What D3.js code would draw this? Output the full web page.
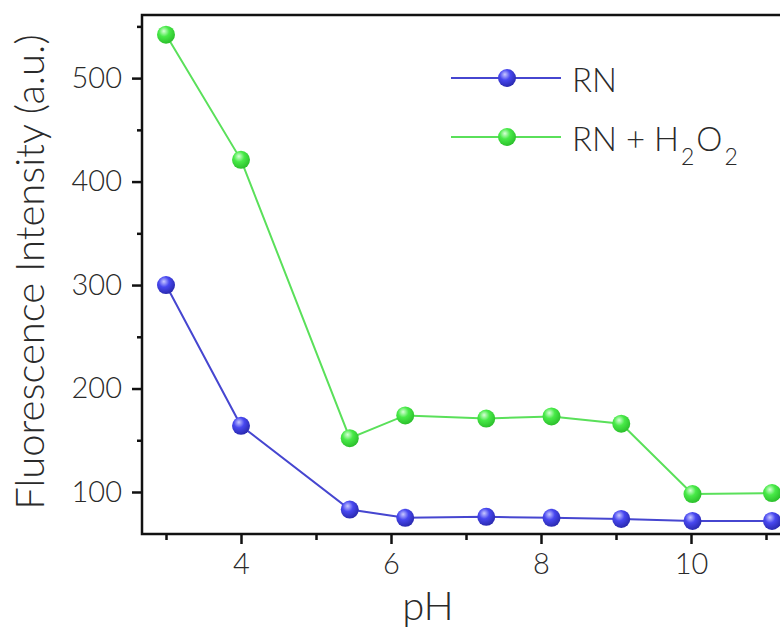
<!DOCTYPE html>
<html><head><meta charset="utf-8">
<script src="https://cdn.jsdelivr.net/npm/d3@7"></script>
<style>body{margin:0;background:#fff;} svg{display:block;} text{font-weight:300;}</style>
</head><body>
<svg id="c" width="780" height="628"></svg>
<script>
const pH = [3, 4, 5.45, 6.19, 7.27, 8.14, 9.07, 10.02, 11.08];
const rn = [300, 164, 83, 75, 76, 75, 74, 72, 72];
const rnH2O2 = [542, 421, 152, 174, 171, 173, 166, 98, 99];
const xTicks = [4, 6, 8, 10];
const xMinor = [3, 5, 7, 9, 11];
const yTicks = [100, 200, 300, 400, 500];
const yMinor = [150, 250, 350, 450, 550];
const seriesNames = ["RN", "RN + H2O2"];

const svg = d3.select("#c");
const L = 142, T = 15, B = 534;
const x = d3.scaleLinear().domain([2.68, 11.58]).range([L, L + (11.58-2.68)*75]);
const y = d3.scaleLinear().domain([59.4, 561]).range([B, T]);
const font = "Lato, 'Open Sans', sans-serif";
const textCol = "#2a2a2a";

const defs = svg.append("defs");
function grad(id, light, mid, dark){
  const g = defs.append("radialGradient").attr("id", id).attr("cx","40%").attr("cy","35%").attr("r","65%").attr("fx","38%").attr("fy","30%");
  g.append("stop").attr("offset","0%").attr("stop-color", light);
  g.append("stop").attr("offset","45%").attr("stop-color", mid);
  g.append("stop").attr("offset","100%").attr("stop-color", dark);
}
grad("gb", "#c8c8ff", "#4848f0", "#2a2ab0");
grad("gg", "#d8ffd8", "#48ea48", "#2cc02c");

const series = [
  {name: seriesNames[0], vals: rn, line: "#4646d0", fill: "url(#gb)"},
  {name: seriesNames[1], vals: rnH2O2, line: "#5ae05a", fill: "url(#gg)"}
];

const line = d3.line().x(d => x(d[0])).y(d => y(d[1]));
series.forEach(s => {
  const pts = pH.map((p, i) => [p, s.vals[i]]);
  svg.append("path").datum(pts).attr("d", line).attr("fill","none").attr("stroke", s.line).attr("stroke-width", 2);
  svg.selectAll(null).data(pts).enter().append("circle")
    .attr("cx", d => x(d[0])).attr("cy", d => y(d[1])).attr("r", 9).attr("fill", s.fill);
});

// axes
const xAxis = d3.axisBottom(x).tickValues(xTicks).tickSize(10).tickPadding(9).tickFormat(d3.format("d"));
const gx = svg.append("g").attr("transform", `translate(0,${B})`).call(xAxis);
gx.select(".domain").remove();
gx.append("g").call(d3.axisBottom(x).tickValues(xMinor).tickSize(6).tickFormat("")).select(".domain").remove();
const yAxis = d3.axisLeft(y).tickValues(yTicks).tickSize(10).tickPadding(10);
const gy = svg.append("g").attr("transform", `translate(${L},0)`).call(yAxis);
gy.select(".domain").remove();
gy.append("g").call(d3.axisLeft(y).tickValues(yMinor).tickSize(5).tickFormat("")).select(".domain").remove();
[gx, gy].forEach(g => {
  g.selectAll("line").attr("stroke", "#111").attr("stroke-width", 2.5);
  g.selectAll("text").attr("font-family", font).attr("font-size", 29).attr("fill", textCol);
});

// frame
svg.append("path").attr("d", `M${L},${T} L780,${T} M${L},${T-1.25} L${L},${B} L780,${B}`)
  .attr("fill","none").attr("stroke","#111").attr("stroke-width",2.5);

// axis titles
svg.append("text").attr("x", 428).attr("y", 620).attr("text-anchor","middle")
  .attr("font-family", font).attr("font-size", 40).attr("fill", textCol).text("pH");
svg.append("text").attr("transform", `translate(44,272) rotate(-90)`).attr("text-anchor","middle")
  .attr("font-family", font).attr("font-size", 40).attr("fill", textCol).text("Fluorescence Intensity (a.u.)");

// legend
const lg = svg.append("g");
series.forEach((s, i) => {
  const yy = 78 + i*59;
  lg.append("line").attr("x1", 451).attr("x2", 561).attr("y1", yy).attr("y2", yy).attr("stroke", s.line).attr("stroke-width", 2);
  lg.append("circle").attr("cx", 507).attr("cy", yy).attr("r", 9).attr("fill", s.fill);
  const t = lg.append("text").attr("x", 572).attr("y", yy + 14).attr("font-family", font).attr("font-size", 33).attr("fill", textCol);
  if (s.name === "RN + H2O2") {
    t.append("tspan").text("RN + H");
    t.append("tspan").attr("font-size", 23).attr("dx", 2).attr("dy", 14).text("2");
    t.append("tspan").attr("dx", 2).attr("dy", -14).text("O");
    t.append("tspan").attr("font-size", 23).attr("dx", 2).attr("dy", 14).text("2");
  } else {
    t.text(s.name);
  }
});
</script>
</body></html>
